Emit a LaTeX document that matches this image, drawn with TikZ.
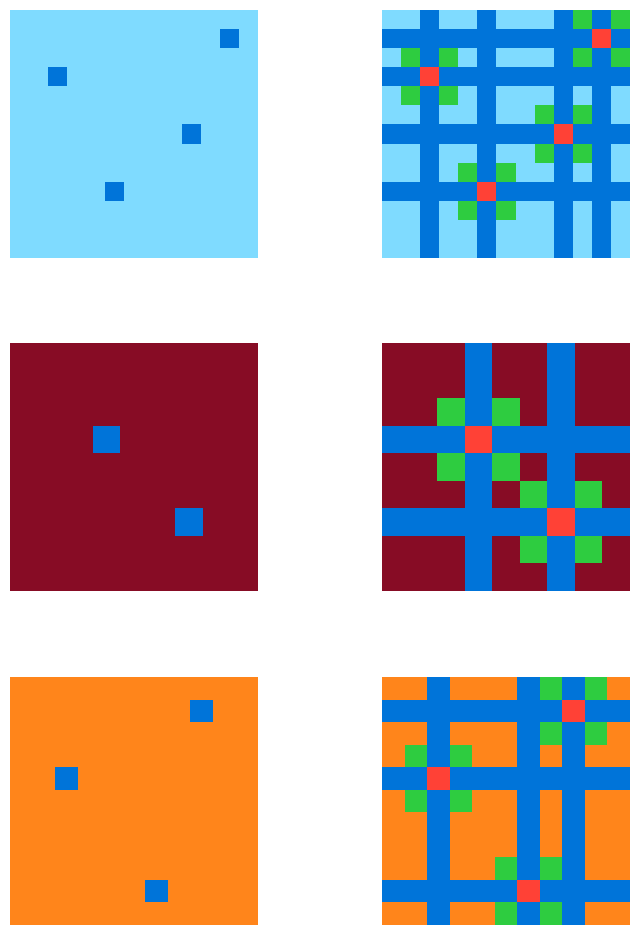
\documentclass[tikz,border=0pt]{standalone}
\usepackage{tikz}
\definecolor{cblue}{HTML}{0074D9}
\definecolor{cred}{HTML}{FF4136}
\definecolor{cgreen}{HTML}{2ECC40}
\definecolor{csky}{HTML}{7FDBFF}
\definecolor{cmaroon}{HTML}{870C25}
\definecolor{corange}{HTML}{FF851B}

\begin{document}
\begin{tikzpicture}[x=0.5pt, y=-0.5pt,
      cellfill/.style={fill=#1},
      dot/.style={cellfill=cblue},
      hit/.style={cellfill=cred},
      diag/.style={cellfill=cgreen}
    ]
    \useasboundingbox (0,0) rectangle (639,935);

    % pair 1: 13x13 on light blue
    \begin{scope}[shift={(10,10)}, x=9.5385pt, y=-9.5385pt]
      \fill[csky] (0,0) rectangle (13,13);
      \foreach \c/\r in {11/1,2/3,9/6,5/9}
        \fill[dot] (\c,\r) rectangle ++(1,1);
    \end{scope}
    \begin{scope}[shift={(382,10)}, x=9.5385pt, y=-9.5385pt]
      \fill[csky] (0,0) rectangle (13,13);
      \foreach \c in {2,5,9,11} \fill[dot] (\c,0) rectangle ++(1,13);
      \foreach \r in {1,3,6,9} \fill[dot] (0,\r) rectangle ++(13,1);
      \foreach \c/\r in {11/1,2/3,9/6,5/9} {
        \fill[hit] (\c,\r) rectangle ++(1,1);
        \foreach \dx/\dy in {-1/-1,1/-1,-1/1,1/1}
          \fill[diag] ({\c+\dx},{\r+\dy}) rectangle ++(1,1);
      }
    \end{scope}

    % pair 2: 9x9 on maroon
    \begin{scope}[shift={(10,343)}, x=13.7778pt, y=-13.7778pt]
      \fill[cmaroon] (0,0) rectangle (9,9);
      \foreach \c/\r in {3/3,6/6}
        \fill[dot] (\c,\r) rectangle ++(1,1);
    \end{scope}
    \begin{scope}[shift={(382,343)}, x=13.7778pt, y=-13.7778pt]
      \fill[cmaroon] (0,0) rectangle (9,9);
      \foreach \c in {3,6} \fill[dot] (\c,0) rectangle ++(1,9);
      \foreach \r in {3,6} \fill[dot] (0,\r) rectangle ++(9,1);
      \foreach \c/\r in {3/3,6/6} {
        \fill[hit] (\c,\r) rectangle ++(1,1);
        \foreach \dx/\dy in {-1/-1,1/-1,-1/1,1/1}
          \fill[diag] ({\c+\dx},{\r+\dy}) rectangle ++(1,1);
      }
    \end{scope}

    % pair 3: 11x11 on orange
    \begin{scope}[shift={(10,677)}, x=11.2727pt, y=-11.2727pt]
      \fill[corange] (0,0) rectangle (11,11);
      \foreach \c/\r in {8/1,2/4,6/9}
        \fill[dot] (\c,\r) rectangle ++(1,1);
    \end{scope}
    \begin{scope}[shift={(382,677)}, x=11.2727pt, y=-11.2727pt]
      \fill[corange] (0,0) rectangle (11,11);
      \foreach \c in {2,6,8} \fill[dot] (\c,0) rectangle ++(1,11);
      \foreach \r in {1,4,9} \fill[dot] (0,\r) rectangle ++(11,1);
      \foreach \c/\r in {8/1,2/4,6/9} {
        \fill[hit] (\c,\r) rectangle ++(1,1);
        \foreach \dx/\dy in {-1/-1,1/-1,-1/1,1/1}
          \fill[diag] ({\c+\dx},{\r+\dy}) rectangle ++(1,1);
      }
    \end{scope}
  \end{tikzpicture}
\end{document}
